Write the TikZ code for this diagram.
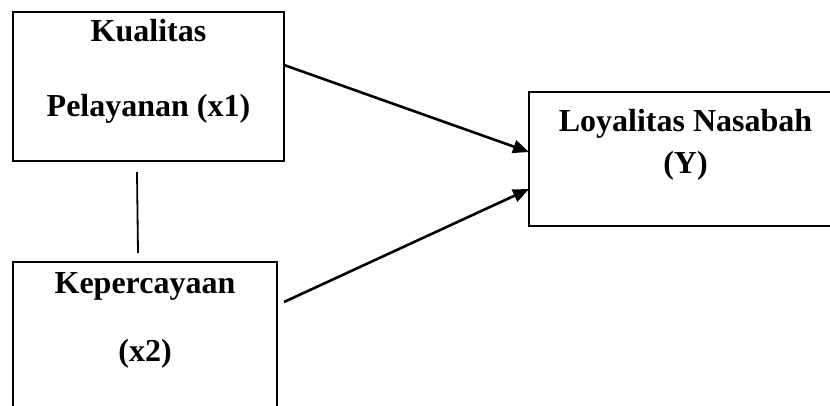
\documentclass[tikz,border=0pt]{standalone}
\usepackage{fontspec}
\setmainfont{Liberation Serif}
\usetikzlibrary{arrows.meta}
\begin{document}
\begin{tikzpicture}[x=1pt,y=-1pt,
  boxline/.style={draw=black,line width=2.6pt},
  lbl/.style={anchor=base,inner sep=0pt,font=\fontsize{32}{36}\selectfont\bfseries},
  conn/.style={line width=2.6pt},
  arr/.style={conn,-{Triangle[length=16pt,width=13pt]}}]
\useasboundingbox (0,0) rectangle (830,406);
\clip (0,0) rectangle (830,406);
\fill[white] (0,0) rectangle (830,406);
% boxes
\draw[boxline] (13,12) rectangle (284,161);
\draw[boxline] (13,262) rectangle (277,420);
\draw[boxline] (529,92) rectangle (845,226);
% texts
\node[lbl] (t1a) at (148.5,42) {Kualitas};
\node[lbl] (t1b) at (148.5,117) {Pelayanan (x1)};
\node[lbl] (t2a) at (145,293) {Kepercayaan};
\node[lbl] (t2b) at (145,361) {(x2)};
\node[lbl] (t3a) at (685.5,132) {Loyalitas Nasabah};
\node[lbl] (t3b) at (685.5,174) {(Y)};
% connector end points
\coordinate (a1s) at (284,65);
\coordinate (a1e) at (529,152);
\coordinate (a2s) at (284,302);
\coordinate (a2e) at (529,189);
\coordinate (ls) at (137,172);
\coordinate (le) at (138,253);
\draw[arr] (a1s) -- (a1e);
\draw[arr] (a2s) -- (a2e);
\draw[line width=1.8pt] (ls) -- (le);
\end{tikzpicture}
\end{document}
